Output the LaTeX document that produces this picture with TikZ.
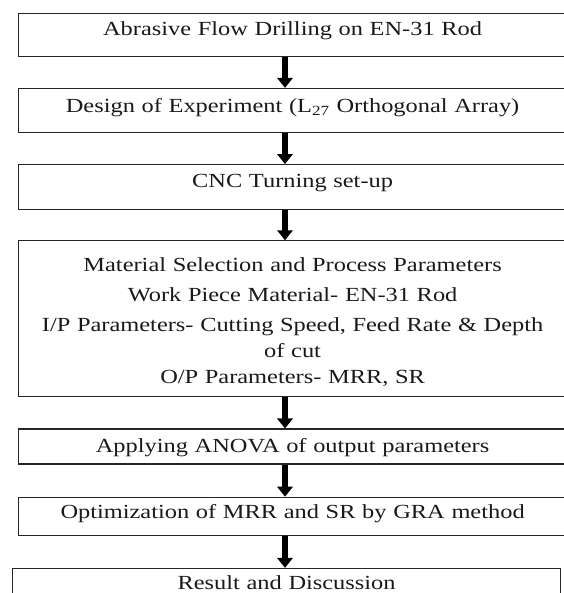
\documentclass[tikz,border=0pt]{standalone}
\usepackage{fontspec}
\setmainfont{Liberation Serif}[FakeStretch=1.22]
\usetikzlibrary{positioning}
\usetikzlibrary{arrows.meta}

\begin{document}
\begin{tikzpicture}[
	box/.style = {draw, black!85, line width = 0.9pt, anchor = north west, text width = 411pt, align = center, inner sep = 0pt, text = black!90, font = \fontsize{15}{19.5}\selectfont},
	flow/.style = {black, line width = 4.6pt, -{Triangle[length = 7.5pt, width = 11.5pt]}}
	]
			\useasboundingbox (0,0) rectangle (423pt,-444.75pt);
			\clip (0,0) rectangle (423pt,-444.75pt);
			
			\node[box, text height = 16.5pt, text depth = 15.75pt] (drill) at (13.5pt,-9.5pt) {Abrasive Flow Drilling on EN-31 Rod};
			\node[box, text height = 18pt, text depth = 15pt, below = 23.25pt of drill] (doe) {Design of Experiment (L\textsubscript{27} Orthogonal Array)};
			\node[box, text height = 17.25pt, text depth = 16.5pt, below = 23.25pt of doe] (cnc) {CNC Turning set-up};
			\node[box, text height = 23.25pt, text depth = 93.75pt, below = 22.5pt of cnc] (para) {Material Selection and Process Parameters\\[3pt]
				Work Piece Material- EN-31 Rod\\[3pt]
				I/P Parameters- Cutting Speed, Feed Rate \& Depth\\
				of cut\\
				O/P Parameters- MRR, SR};
			\node[box, text height = 17.25pt, text depth = 9pt, below = 23.25pt of para] (anova) {Applying ANOVA of output parameters};
			\node[box, text height = 15.75pt, text depth = 12.75pt, below = 24pt of anova] (gra) {Optimization of MRR and SR by GRA method};
			\node[box, text height = 15.75pt, text depth = 15pt, below = 24pt of gra, xshift = -4.5pt] (res) {Result and Discussion};
			
			\coordinate (ax) at (213.75pt,0);
			\draw[flow] (drill.south -| ax) -- (doe.north -| ax);
			\draw[flow] (doe.south -| ax) -- (cnc.north -| ax);
			\draw[flow] (cnc.south -| ax) -- (para.north -| ax);
			\draw[flow] (para.south -| ax) -- (anova.north -| ax);
			\draw[flow] (anova.south -| ax) -- (gra.north -| ax);
			\draw[flow] (gra.south -| ax) -- (res.north -| ax);
\end{tikzpicture}
\end{document}
